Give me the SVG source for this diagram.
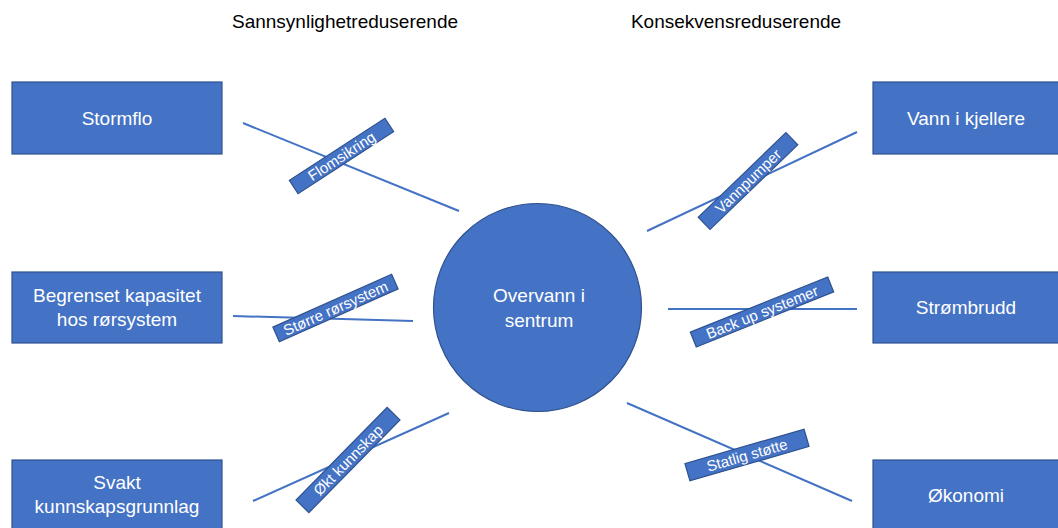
<svg xmlns="http://www.w3.org/2000/svg" width="1058" height="528" viewBox="0 0 1058 528">
<style>
.box{fill:#4472C4;stroke:#2F528F;stroke-width:1.2}
.t{font-family:"Liberation Sans",Arial,sans-serif;font-size:19px;fill:#fff;text-anchor:middle}
.h{font-family:"Liberation Sans",Arial,sans-serif;font-size:19px;fill:#000;text-anchor:middle}
.ln{stroke:#4472C4;stroke-width:2;fill:none}
.lb{fill:#4472C4;stroke:#2F528F;stroke-width:1.2}
.lt{font-family:"Liberation Sans",Arial,sans-serif;font-size:15px;fill:#fff;text-anchor:middle}
</style>
<rect width="1058" height="528" fill="#fff"/>
<text class="h" x="345" y="28">Sannsynlighetreduserende</text>
<text class="h" x="736" y="28">Konsekvensreduserende</text>
<g id="connectors">
<line class="ln" x1="243" y1="123" x2="459" y2="211"/>
<line class="ln" x1="647" y1="231" x2="857" y2="132"/>
<line class="ln" x1="233" y1="316" x2="413" y2="321"/>
<line class="ln" x1="668" y1="309" x2="857" y2="309"/>
<line class="ln" x1="253" y1="501" x2="449" y2="413"/>
<line class="ln" x1="627" y1="403" x2="852" y2="501"/>
</g>
<g id="labels">
<g id="lbl-flomsikring" transform="translate(341.5,156) rotate(-33)">
<rect class="lb" x="-57" y="-8" width="114" height="16"/>
<text class="lt" x="0" y="5.5">Flomsikring</text>
</g>
<g id="lbl-vannpumper" transform="translate(748,181) rotate(-44)">
<rect class="lb" x="-61" y="-8.5" width="122" height="17"/>
<text class="lt" x="0" y="5.5">Vannpumper</text>
</g>
<g id="lbl-storre" transform="translate(335.5,308) rotate(-24)">
<rect class="lb" x="-65" y="-8" width="130" height="16"/>
<text class="lt" x="0" y="5.5">Større rørsystem</text>
</g>
<g id="lbl-backup" transform="translate(762,312) rotate(-21.8)">
<rect class="lb" x="-74" y="-8" width="148" height="16"/>
<text class="lt" x="0" y="5.5">Back up systemer</text>
</g>
<g id="lbl-okt" transform="translate(348,460) rotate(-45.5)">
<rect class="lb" x="-65" y="-9" width="130" height="18"/>
<text class="lt" x="0" y="5.5">Økt kunnskap</text>
</g>
<g id="lbl-statlig" transform="translate(747,455) rotate(-16.1)">
<rect class="lb" x="-62" y="-9" width="124" height="18"/>
<text class="lt" x="0" y="5.5">Statlig støtte</text>
</g>
</g>
<g id="center">
<circle cx="537.5" cy="307.5" r="104" fill="#4472C4" stroke="#2F528F" stroke-width="1.2"/>
<text class="t" x="539" y="302">Overvann i</text>
<text class="t" x="539" y="327">sentrum</text>
</g>
<g id="stormflo">
<rect class="box" x="12" y="82" width="210" height="72"/>
<text class="t" x="117" y="125">Stormflo</text>
</g>
<g id="begrenset">
<rect class="box" x="12" y="272" width="210" height="71"/>
<text class="t" x="117" y="302">Begrenset kapasitet</text>
<text class="t" x="117" y="326">hos rørsystem</text>
</g>
<g id="svakt">
<rect class="box" x="12" y="460" width="210" height="72"/>
<text class="t" x="117" y="489">Svakt</text>
<text class="t" x="117" y="513">kunnskapsgrunnlag</text>
</g>
<g id="vann">
<rect class="box" x="873" y="82" width="200" height="72"/>
<text class="t" x="966" y="125">Vann i kjellere</text>
</g>
<g id="strombrudd">
<rect class="box" x="873" y="272" width="200" height="71"/>
<text class="t" x="966" y="314">Strømbrudd</text>
</g>
<g id="okonomi">
<rect class="box" x="873" y="460" width="200" height="72"/>
<text class="t" x="966" y="502">Økonomi</text>
</g>
</svg>
